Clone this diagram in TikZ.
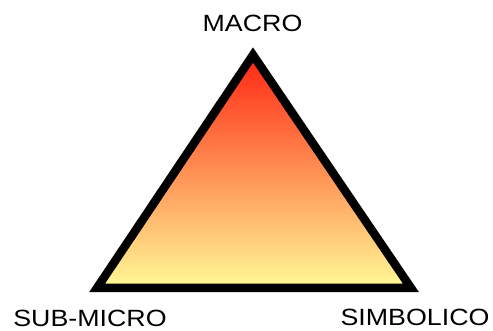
\documentclass[tikz,border=0pt]{standalone}
\usepackage{fontspec}
\newfontfamily\lab[FakeStretch=1.14]{Liberation Sans}
\definecolor{topred}{RGB}{255,38,18}
\definecolor{midpeach}{RGB}{253,186,126}
\definecolor{botyel}{RGB}{255,250,150}
\tikzset{
  lbl/.style={anchor=base, inner sep=0pt, font=\lab\fontsize{23.5}{28}\selectfont},
  edge/.style={line width=8.5pt, line join=miter, black}
}
\begin{document}
\begin{tikzpicture}[x=1pt,y=1pt]
\useasboundingbox (0,0) rectangle (493,331);
\coordinate (top) at (253,276);
\coordinate (bl) at (97,43);
\coordinate (br) at (411,43);
\fill[top color=topred, middle color=midpeach, bottom color=botyel] (top) -- (bl) -- (br) -- cycle;
\draw[edge] (top) -- (bl) -- (br) -- cycle;
\node[lbl] (macro) at (252.5,299) {MACRO};
\node[lbl] (submicro) at (90,4) {SUB-MICRO};
\node[lbl] (simbolico) at (415,5) {SIMBOLICO};
\end{tikzpicture}
\end{document}
